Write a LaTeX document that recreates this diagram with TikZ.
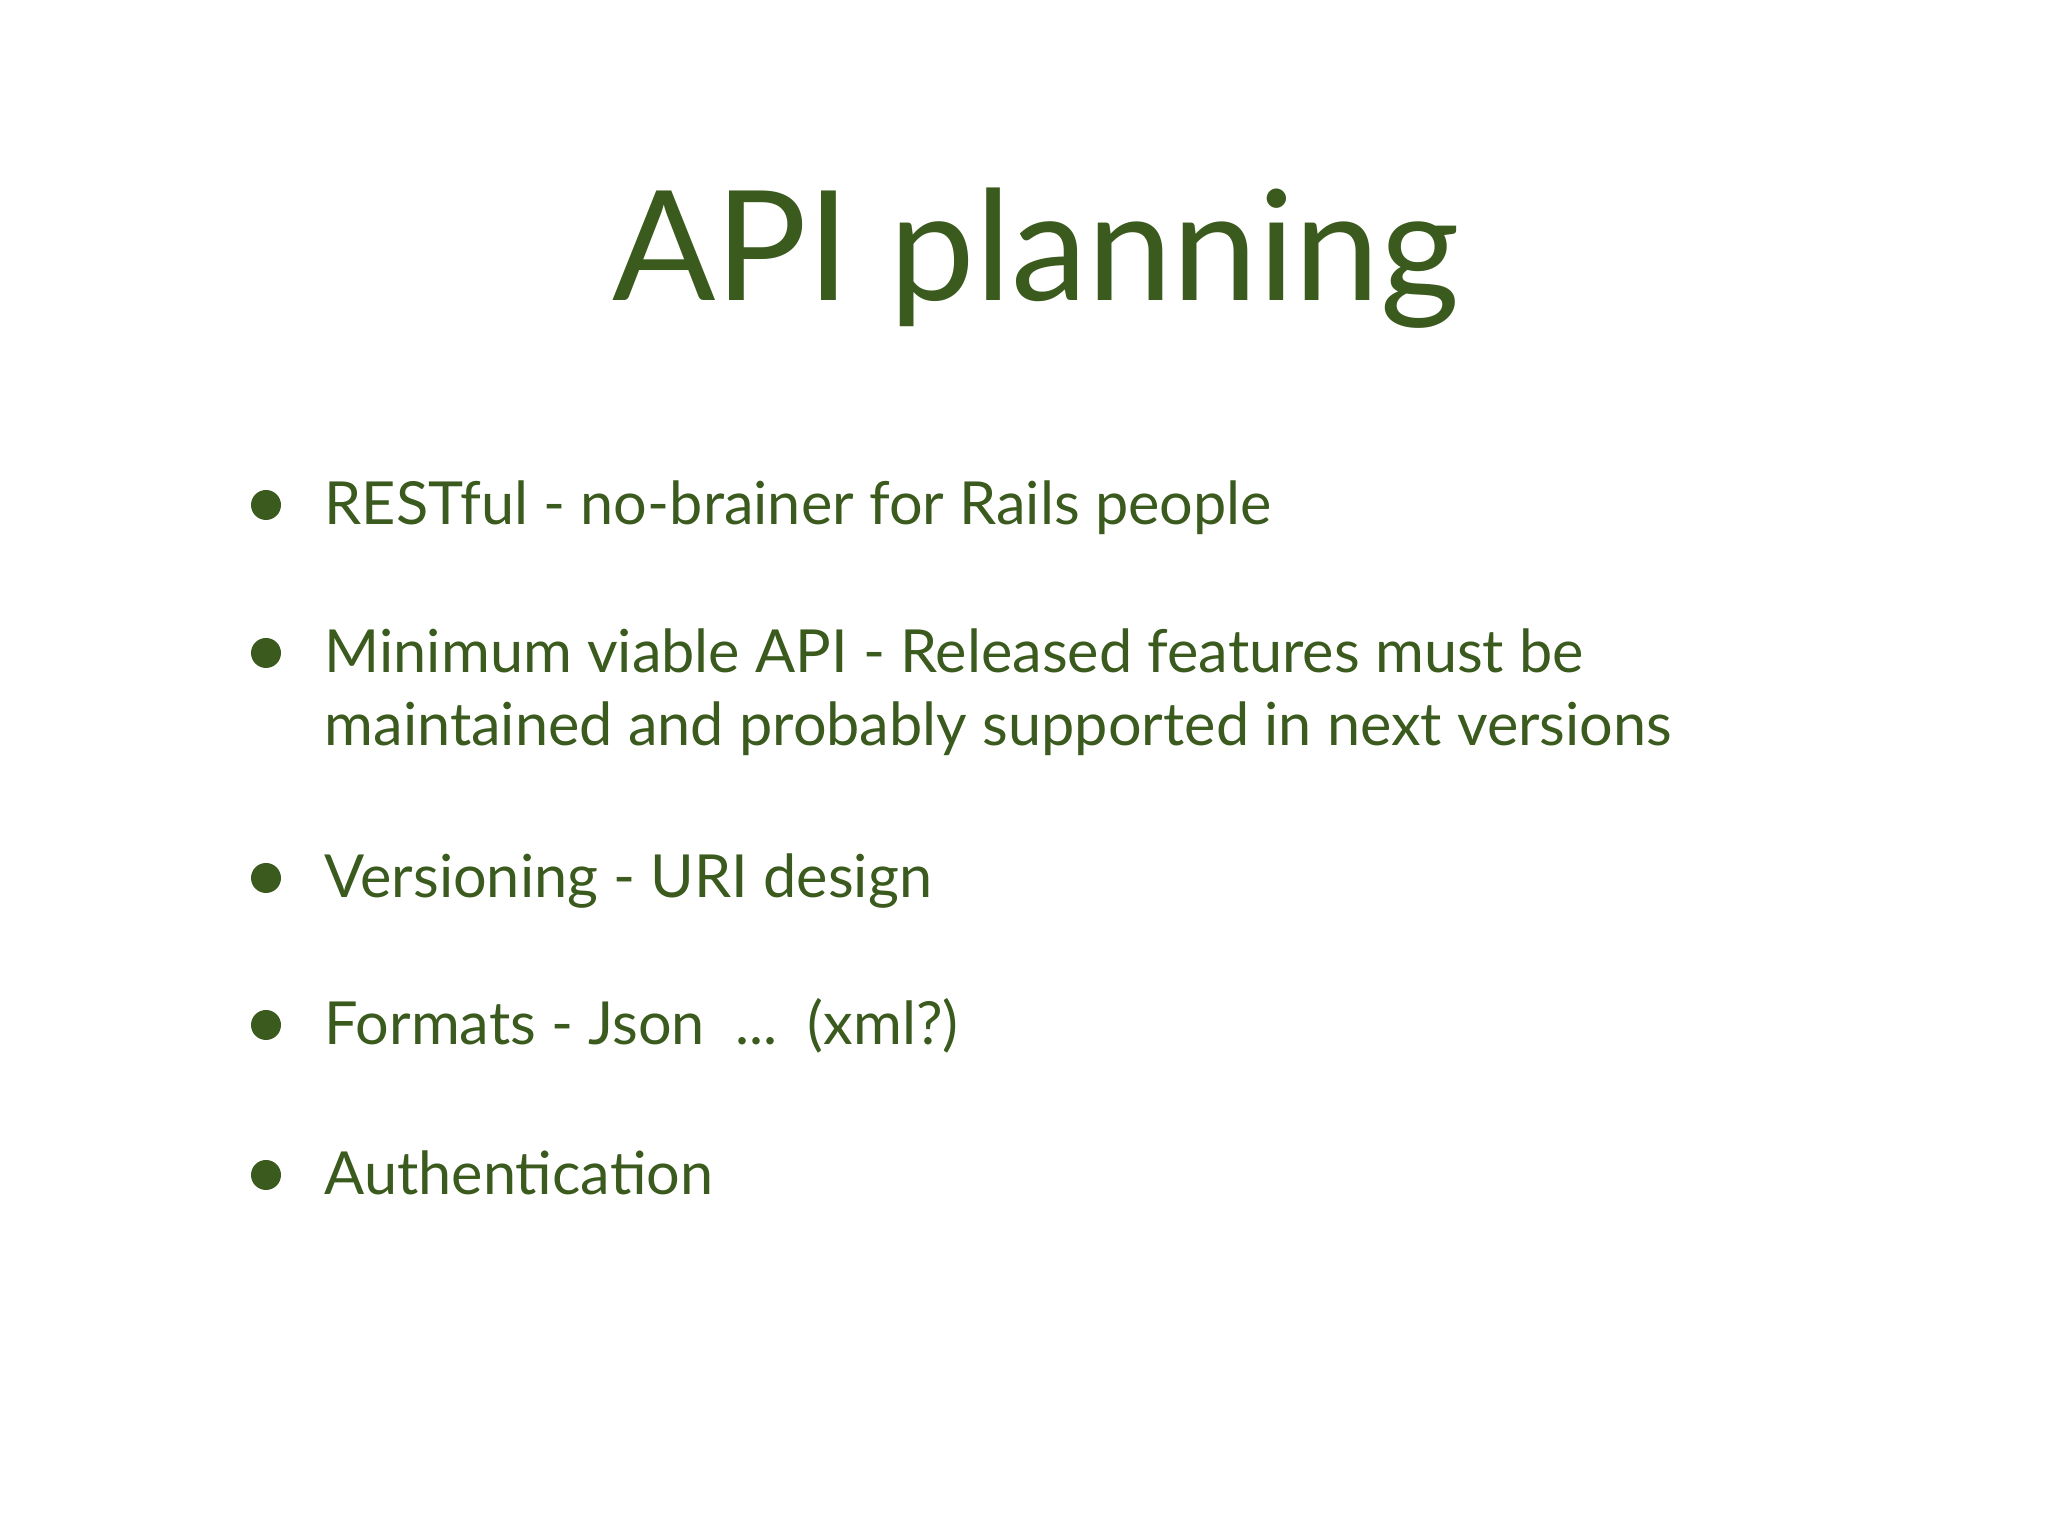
\documentclass[tikz,border=0pt]{standalone}
\usepackage{fontspec}
\setmainfont{Lato}
\definecolor{sg}{HTML}{3B5A1E}
\begin{document}
\begin{tikzpicture}[x=1cm,y=1cm,
  item/.style={anchor=base west,inner sep=0,text=sg,font=\fontsize{16.9}{24}\selectfont},
  dot/.style={circle,fill=sg,minimum size=0.3cm,inner sep=0}]
\useasboundingbox (0,0) rectangle (20.48,15.36);
\node[anchor=base,inner sep=0,text=sg,font=\fontsize{43.5}{52}\selectfont] (title) at (10.36,12.35) {API planning};
\node[item] (t1) at (3.24,10.11) {RESTful - no-brainer for Rails people};
\node[item] (t2) at (3.24,8.63) {Minimum viable API - Released features must be};
\node[item] (t2b) at (3.24,7.90) {maintained and probably supported in next versions};
\node[item] (t3) at (3.24,6.38) {Versioning - URI design};
\node[item] (t4) at (3.24,4.91) {Formats - Json\ \ ...\ \ (xml?)};
\node[item] (t5) at (3.24,3.41) {Authentication};
\foreach \n/\y in {b1/10.11,b2/8.63,b3/6.38,b4/4.91,b5/3.41}
  \node[dot] (\n) at (2.66,\y+0.2) {};
\end{tikzpicture}
\end{document}
